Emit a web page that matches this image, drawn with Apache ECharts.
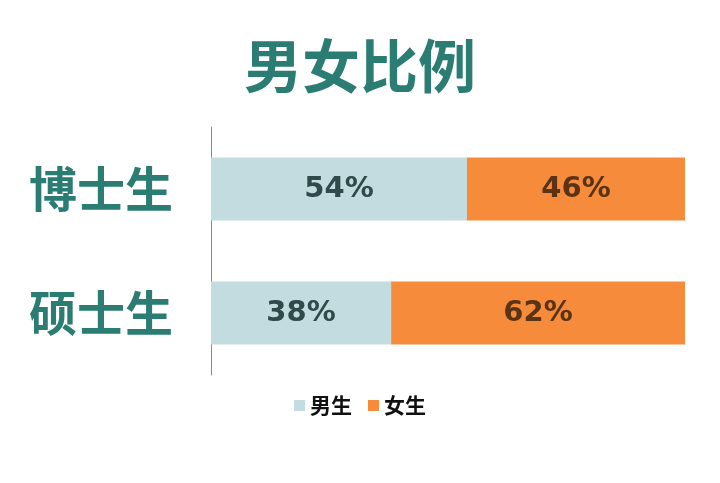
<!DOCTYPE html>
<html>
<head>
<meta charset="utf-8">
<script src="https://cdn.jsdelivr.net/npm/echarts@6/dist/echarts.min.js"></script>
<style>
  html, body { margin: 0; padding: 0; background: #fff; }
  #main { width: 720px; height: 483px; }
</style>
</head>
<body>
<div id="main"></div>
<script>
  var categories = ['博士生', '硕士生'];
  var male = [54, 38];
  var female = [46, 62];

  var chart = echarts.init(document.getElementById('main'));
  var option = {
    backgroundColor: '#fff',
    title: {
      text: '男女比例',
      left: 'center',
      top: 32,
      textStyle: {
        color: '#2b7d74',
        fontSize: 58,
        fontWeight: 'bold',
        fontFamily: 'Noto Sans CJK SC'
      }
    },
    legend: {
      bottom: 62,
      left: 'center',
      itemWidth: 11,
      itemHeight: 11,
      itemGap: 16,
      icon: 'rect',
      textStyle: {
        color: '#111',
        fontSize: 21,
        fontWeight: 'bold',
        fontFamily: 'Noto Sans CJK SC'
      },
      data: ['男生', '女生']
    },
    grid: { left: 211, right: 35, top: 127, bottom: 108 },
    xAxis: {
      type: 'value',
      min: 0,
      max: 100,
      show: false
    },
    yAxis: {
      type: 'category',
      data: categories,
      inverse: true,
      axisLine: { show: true, lineStyle: { color: '#888', width: 1 } },
      axisTick: { show: false },
      axisLabel: {
        margin: 38,
        color: '#2b7d74',
        fontSize: 48,
        fontWeight: 'bold',
        fontFamily: 'Noto Sans CJK SC'
      }
    },
    series: [
      {
        name: '男生',
        type: 'bar',
        stack: 'total',
        barWidth: 63,
        data: male,
        itemStyle: { color: '#c3dce0' },
        label: {
          show: true,
          formatter: '{c}%',
          color: '#2e4a4a',
          fontSize: 29,
          fontWeight: 'bold',
          fontFamily: 'DejaVu Sans'
        }
      },
      {
        name: '女生',
        type: 'bar',
        stack: 'total',
        barWidth: 63,
        data: female,
        itemStyle: { color: '#f68b3b' },
        label: {
          show: true,
          formatter: '{c}%',
          color: '#5a3315',
          fontSize: 29,
          fontWeight: 'bold',
          fontFamily: 'DejaVu Sans'
        }
      }
    ]
  };
  chart.setOption(option);
</script>
</body>
</html>
